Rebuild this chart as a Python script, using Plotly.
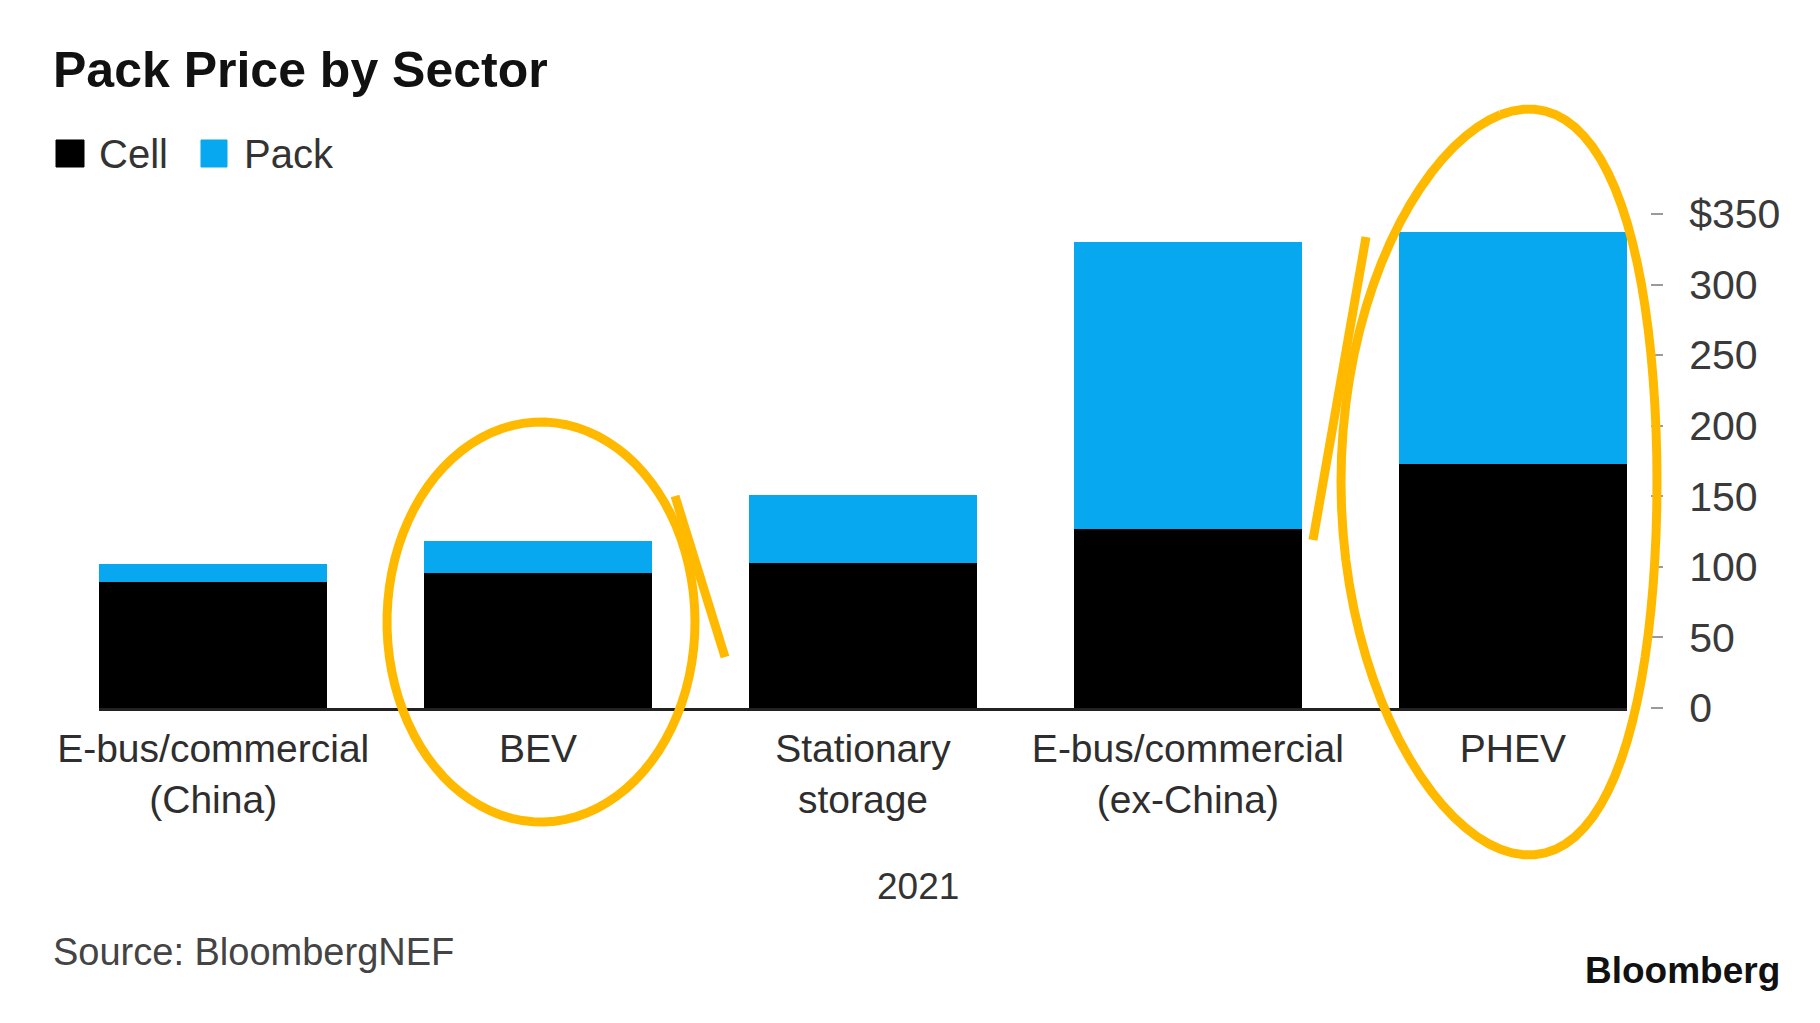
import math
import plotly.graph_objects as go

# Battery pack prices by sector, 2021 ($/kWh)
sectors = [
    "E-bus/commercial<br>(China)",
    "BEV",
    "Stationary<br>storage",
    "E-bus/commercial<br>(ex-China)",
    "PHEV",
]
cell_price = [89, 96, 103, 127, 173]
pack_price = [13, 22, 48, 203, 164]

y_tick_vals = [0, 50, 100, 150, 200, 250, 300, 350]
y_tick_text = ["0", "50", "100", "150", "200", "250", "300", "$350"]

CELL_COLOR = "#000000"
PACK_COLOR = "#08A8F0"
MARK_COLOR = "#FFBA00"

W, H = 1820, 1023
ML, MR, MT, MB = 99, 170, 214, 315
PW, PH = W - ML - MR, H - MT - MB


def px(x):
    return (x - ML) / PW


def py(y):
    return (H - MB - y) / PH


fig = go.Figure()
fig.add_trace(go.Bar(x=sectors, y=cell_price, name="Cell",
                     marker=dict(color=CELL_COLOR, line=dict(width=0)),
                     showlegend=False))
fig.add_trace(go.Bar(x=sectors, y=pack_price, name="Pack",
                     marker=dict(color=PACK_COLOR, line=dict(width=0)),
                     showlegend=False))

gap = 0.297
x_end = (1627 - ML) / PW

fig.update_layout(
    width=W, height=H, autosize=False,
    barmode="stack", bargap=gap,
    paper_bgcolor="white", plot_bgcolor="white",
    margin=dict(l=ML, r=MR, t=MT, b=MB, pad=0),
    font=dict(family="Liberation Sans, Arial, sans-serif", color="#333333"),
    xaxis=dict(
        domain=[0, x_end],
        range=[-0.5 + gap / 2, 4.5 - gap / 2],
        showline=True, linecolor="#222222", linewidth=3,
        ticks="", showgrid=False, zeroline=False,
        tickfont=dict(size=39, color="#2e2e2e"),
        ticklabelstandoff=4,
    ),
    yaxis=dict(
        anchor="free", position=1, side="right",
        range=[0, 350],
        tickvals=y_tick_vals, ticktext=y_tick_text,
        ticks="outside", ticklen=12, tickwidth=2, tickcolor="#9a9a9a",
        showgrid=False, zeroline=False, showline=False,
        tickfont=dict(size=41, color="#3a3a3a"),
        ticklabelstandoff=18,
    ),
)

annotations = [
    dict(text="<b>Pack Price by Sector</b>", x=px(51), y=py(70),
         xanchor="left", yanchor="middle",
         font=dict(size=50, color="#111111")),
    dict(text="Cell", x=px(97), y=py(154), xanchor="left", yanchor="middle",
         font=dict(size=40, color="#333333")),
    dict(text="Pack", x=px(242), y=py(154), xanchor="left", yanchor="middle",
         font=dict(size=40, color="#333333")),
    dict(text="2021", x=px(918), y=py(886), xanchor="center", yanchor="middle",
         font=dict(size=37, color="#333333")),
    dict(text="Source: BloombergNEF", x=px(51), y=py(952),
         xanchor="left", yanchor="middle",
         font=dict(size=38, color="#444444")),
    dict(text="<b>Bloomberg</b>", x=px(1782), y=py(970),
         xanchor="right", yanchor="middle",
         font=dict(size=37, color="#111111")),
]
for a in annotations:
    a.update(xref="paper", yref="paper", showarrow=False)
fig.update_layout(annotations=annotations)


def box_path(x0, y0, x1, y1):
    return (f"M{px(x0):.5f},{py(y0):.5f} L{px(x1):.5f},{py(y0):.5f} "
            f"L{px(x1):.5f},{py(y1):.5f} L{px(x0):.5f},{py(y1):.5f} Z")


shapes = [
    # legend swatches
    dict(type="path", path=box_path(56, 140, 84, 167), xref="paper", yref="paper",
         fillcolor=CELL_COLOR, line=dict(color=CELL_COLOR, width=1)),
    dict(type="path", path=box_path(201, 140, 227, 167), xref="paper", yref="paper",
         fillcolor=PACK_COLOR, line=dict(color=PACK_COLOR, width=1)),
]


def loop_path(cx, cy, rx, ry, start_deg, sweep_deg, bend=0.0, n=90):
    # freehand loop; `bend` pushes the top and bottom of the loop sideways
    pts = []
    for i in range(n + 1):
        t = math.radians(start_deg + sweep_deg * i / n)
        x = cx + rx * math.cos(t) + bend * math.sin(t) ** 2
        y = cy - ry * math.sin(t)
        pts.append((px(x), py(y)))
    return "M" + " L".join(f"{x:.5f},{y:.5f}" for x, y in pts)


def stroke_path(x0, y0, x1, y1):
    return f"M{px(x0):.5f},{py(y0):.5f} L{px(x1):.5f},{py(y1):.5f}"


hand = [
    loop_path(541, 622, 154, 200, 40, 365),
    stroke_path(675, 496, 725, 657),
    loop_path(1499, 482, 158, 373, 100, 360, bend=30),
    stroke_path(1366, 237, 1313, 540),
]
for p in hand:
    shapes.append(dict(type="path", path=p, xref="paper", yref="paper",
                       line=dict(color=MARK_COLOR, width=9)))
fig.update_layout(shapes=shapes)

fig.write_html("out.html")
